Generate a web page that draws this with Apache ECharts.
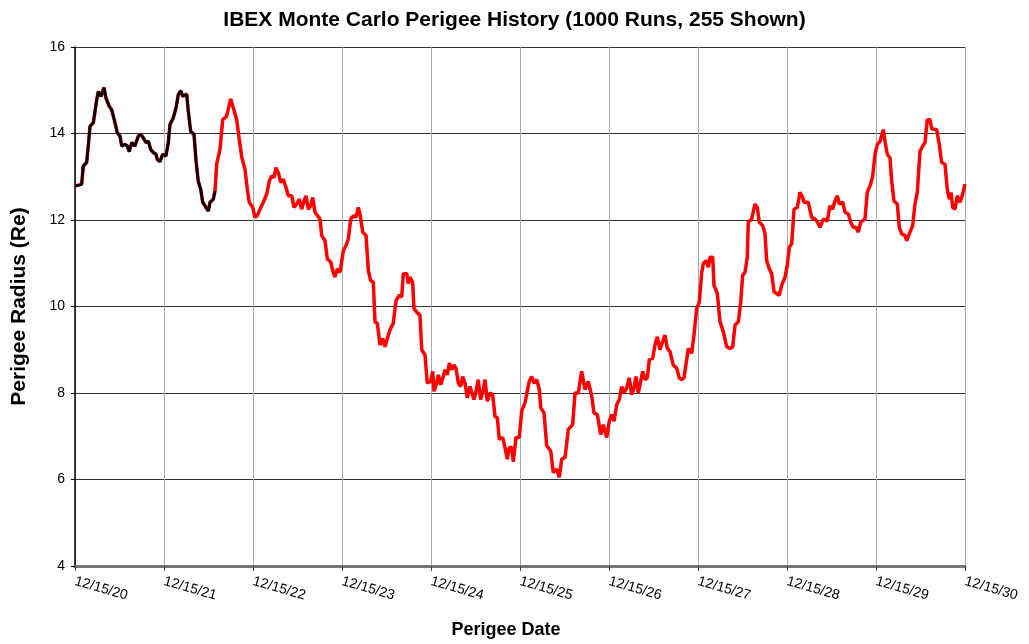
<!DOCTYPE html>
<html>
<head>
<meta charset="utf-8">
<script src="https://cdn.jsdelivr.net/npm/echarts@6/dist/echarts.min.js"></script>
<style>
html,body{margin:0;padding:0;background:#fff;}
#chart{width:1029px;height:644px;}
</style>
</head>
<body>
<div id="chart"></div>
<script>
// Years since 12/15/20
const perigeeYears = [
0.011,0.075,0.093,0.131,0.149,0.169,0.206,0.244,0.262,0.292,0.326,0.348,0.385,0.412,0.449,0.475,0.506,0.525,0.562,0.588,
0.610,0.637,0.674,0.711,0.738,0.767,0.798,0.824,0.851,0.880,0.910,0.925,0.955,0.985,1.022,1.048,1.067,1.104,1.135,1.161,
1.188,1.210,1.255,1.273,1.300,1.337,1.360,1.385,1.412,1.435,1.472,1.498,1.517,1.554,1.573,
1.592,1.629,1.660,1.704,1.749,1.775,1.817,1.843,1.873,1.910,1.936,1.958,1.997,2.022,2.048,2.079,2.116,2.154,2.183,2.210,
2.236,2.258,2.284,2.311,2.340,2.371,2.397,2.435,2.461,2.491,2.520,2.547,2.573,2.596,2.621,2.648,2.671,2.697,2.722,2.753,
2.772,2.809,2.835,2.873,2.896,2.921,2.947,2.978,3.015,3.045,3.071,3.098,3.127,3.157,3.183,3.202,3.233,3.270,3.296,3.322,
3.352,3.371,3.397,3.427,3.457,3.483,3.509,3.539,3.576,3.607,3.644,3.671,3.689,3.727,3.745,3.764,3.794,3.809,3.839,3.876,
3.896,3.933,3.958,3.997,4.019,4.034,4.064,4.082,4.109,4.138,4.157,4.183,4.206,4.233,4.258,4.281,4.307,4.334,4.356,4.382,
4.408,4.438,4.457,4.483,4.506,4.531,4.558,4.588,4.607,4.633,4.663,4.693,4.719,4.745,4.767,4.806,4.831,4.857,4.880,4.907,
4.925,4.955,4.992,5.019,5.056,5.104,5.131,5.157,5.188,5.217,5.233,5.270,5.300,5.345,5.374,5.412,5.442,5.469,5.506,5.543,
5.592,5.618,5.655,5.693,5.730,5.767,5.806,5.831,5.869,5.907,5.936,5.974,6.003,6.030,6.056,6.087,6.116,6.143,6.169,6.199,
6.228,6.255,6.281,6.303,6.329,6.356,6.379,6.404,6.430,6.453,6.491,6.517,6.543,6.573,6.603,6.629,6.655,6.685,6.722,6.761,
6.790,6.817,6.843,6.891,6.929,6.955,6.985,7.015,7.042,7.060,7.090,7.116,7.135,7.165,7.180,7.217,7.247,7.284,7.322,7.360,
7.390,7.416,7.453,7.480,7.502,7.528,7.554,7.565,7.603,7.640,7.666,7.689,7.727,7.753,7.772,7.801,7.828,7.854,7.884,7.913,
7.940,7.978,8.003,8.026,8.053,8.079,8.116,8.146,8.176,8.191,8.239,8.277,8.315,8.340,8.371,8.408,8.453,8.483,8.513,8.539,
8.565,8.588,8.626,8.652,8.689,8.716,8.745,8.775,8.801,8.828,8.876,8.902,8.940,8.963,8.989,9.015,9.045,9.082,9.101,9.127,
9.157,9.176,9.202,9.239,9.262,9.289,9.326,9.345,9.374,9.412,9.438,9.464,9.494,9.525,9.551,9.576,9.607,9.626,9.682,9.711,
9.738,9.775,9.801,9.824,9.843,9.862,9.888,9.913,9.944,9.974,10.000
];
// Perigee radius (Earth radii)
const perigeeRadius = [
12.79,12.83,13.25,13.33,13.71,14.17,14.25,14.78,14.97,14.86,15.06,14.82,14.63,14.55,14.25,14.02,13.94,13.71,13.75,13.71,
13.58,13.79,13.71,13.94,13.98,13.90,13.79,13.82,13.63,13.56,13.52,13.40,13.35,13.52,13.48,13.79,14.21,14.36,14.59,14.90,
14.99,14.86,14.91,14.51,14.05,13.98,13.36,12.90,12.71,12.41,12.29,12.21,12.41,12.48,12.67,
13.29,13.63,14.32,14.40,14.80,14.62,14.32,13.90,13.46,13.17,12.71,12.41,12.29,12.06,12.10,12.25,12.41,12.60,12.90,13.02,
12.98,13.21,13.10,12.87,12.94,12.75,12.56,12.56,12.29,12.37,12.48,12.25,12.44,12.56,12.25,12.33,12.52,12.18,12.11,12.02,
11.64,11.52,11.10,11.03,10.83,10.68,10.87,10.79,11.29,11.41,11.56,12.02,12.10,12.06,12.29,12.14,11.72,11.64,10.83,10.60,
10.56,9.64,9.61,9.11,9.26,9.07,9.26,9.46,9.61,10.14,10.26,10.22,10.76,10.76,10.53,10.68,10.56,9.95,9.87,9.80,
9.00,8.88,8.23,8.27,8.50,8.04,8.23,8.42,8.19,8.38,8.54,8.42,8.69,8.54,8.65,8.57,8.23,8.15,8.38,8.23,
7.89,8.15,8.19,7.85,8.04,8.31,7.85,8.08,8.31,7.81,8.00,7.96,7.46,7.43,6.93,6.97,6.74,6.47,6.74,6.74,
6.41,6.97,6.97,7.58,7.77,8.27,8.38,8.23,8.31,8.08,7.66,7.54,6.78,6.66,6.16,6.24,6.05,6.47,6.51,7.16,
7.27,8.00,8.00,8.50,8.08,8.27,7.93,7.54,7.50,7.04,7.27,6.97,7.35,7.50,7.35,7.73,7.85,8.15,8.00,8.12,
8.35,7.96,8.12,8.38,8.00,8.27,8.50,8.31,8.35,8.77,8.80,9.11,9.30,9.00,9.19,9.34,9.03,8.96,8.65,8.57,
8.35,8.31,8.35,9.03,8.92,9.34,9.95,10.10,10.79,10.99,11.06,10.91,11.14,11.14,10.49,10.30,9.65,9.42,9.07,9.03,
9.07,9.57,9.65,10.10,10.72,10.79,11.14,11.95,12.02,12.37,12.29,11.95,11.87,11.68,11.06,10.87,10.76,10.34,10.30,10.26,
10.49,10.68,10.95,11.37,11.45,12.25,12.29,12.64,12.52,12.41,12.41,12.06,12.02,11.96,11.83,12.02,11.98,12.33,12.25,12.44,
12.56,12.37,12.41,12.18,12.14,11.95,11.83,11.83,11.72,11.95,12.02,12.64,12.83,13.02,13.52,13.75,13.82,14.09,13.82,13.52,
13.44,12.90,12.44,12.37,11.83,11.68,11.64,11.52,11.68,11.87,12.37,12.64,13.59,13.71,13.79,14.32,14.32,14.11,14.09,13.75,
13.33,13.29,12.71,12.48,12.64,12.29,12.25,12.56,12.41,12.60,12.83
];
// number of leading points drawn in black
const blackPointCount = 55;
const dateLabels = ['12/15/20','12/15/21','12/15/22','12/15/23','12/15/24','12/15/25','12/15/26','12/15/27','12/15/28','12/15/29','12/15/30'];
const yTicks = [4, 6, 8, 10, 12, 14, 16];

const allPts = perigeeYears.map((t, i) => [t, perigeeRadius[i]]);
const blackPts = allPts.slice(0, blackPointCount);

const chart = echarts.init(document.getElementById('chart'), null, {renderer: 'canvas'});
const font = 'Liberation Sans, Arial, sans-serif';
chart.setOption({
  animation: false,
  backgroundColor: '#ffffff',
  title: {
    text: 'IBEX Monte Carlo Perigee History (1000 Runs, 255 Shown)',
    left: 'center', top: 5,
    textStyle: {fontFamily: font, fontWeight: 'bold', fontSize: 21, color: '#000'}
  },
  grid: {left: 75, right: 64, top: 47, bottom: 75, containLabel: false},
  xAxis: {
    type: 'value', min: 0, max: 10, interval: 1,
    name: 'Perigee Date', nameLocation: 'middle', nameGap: 55,
    nameTextStyle: {fontFamily: font, fontWeight: 'bold', fontSize: 18, color: '#000', padding: [0, 28, 0, 0]},
    axisLine: {show: true, onZero: false, lineStyle: {color: '#777', width: 3}},
    axisTick: {show: true, length: 5, lineStyle: {color: '#444'}},
    axisLabel: {
      fontFamily: font, fontSize: 14, color: '#000', rotate: -16, margin: 15,
      formatter: v => dateLabels[Math.round(v)]
    },
    splitLine: {show: true, lineStyle: {color: '#aaaaaa', width: 1}}
  },
  yAxis: {
    type: 'value', min: 4, max: 16, interval: 2,
    name: 'Perigee Radius (Re)', nameLocation: 'middle', nameGap: 45,
    nameTextStyle: {fontFamily: font, fontWeight: 'bold', fontSize: 21, color: '#000'},
    axisLine: {show: true, lineStyle: {color: '#000', width: 1.5}},
    axisTick: {show: true, length: 4, lineStyle: {color: '#000'}},
    axisLabel: {fontFamily: font, fontSize: 14, color: '#000', margin: 10,
      formatter: v => (yTicks.indexOf(v) >= 0 ? String(v) : '')},
    splitLine: {show: true, lineStyle: {color: '#333333', width: 1.2}}
  },
  series: [
    {
      type: 'line', data: allPts, symbol: 'none', smooth: false,
      lineStyle: {color: '#ff0000', width: 3.5}, z: 3
    },
    {
      type: 'line', data: blackPts, symbol: 'none', smooth: false,
      lineStyle: {color: '#000000', width: 2.8}, z: 4
    }
  ]
});
</script>
</body>
</html>
